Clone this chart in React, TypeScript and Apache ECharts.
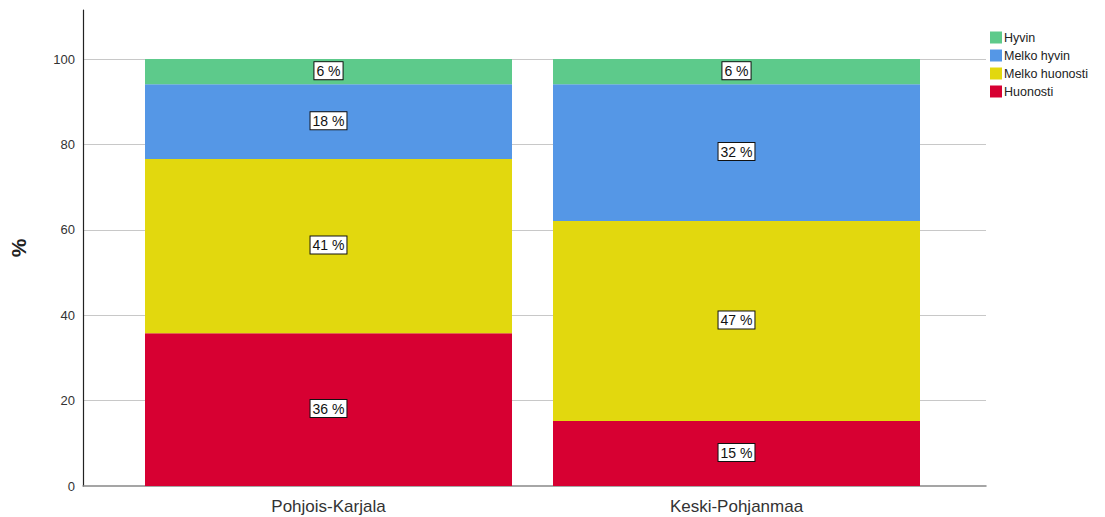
import React, { useEffect, useRef } from "react";
import * as echarts from "echarts";

const categories = ["Pohjois-Karjala", "Keski-Pohjanmaa"];
const seriesNames = ["Huonosti", "Melko huonosti", "Melko hyvin", "Hyvin"];
const huonosti = [35.8, 15.2];
const melkoHuonosti = [40.8, 46.9];
const melkoHyvin = [17.5, 32.0];
const hyvin = [5.9, 5.9];
const yTicks = [0, 20, 40, 60, 80, 100];
const colors = ["#d70032", "#e2d80e", "#5597e6", "#5dca8b"];

export default function App() {
  const ref = useRef<HTMLDivElement>(null);
  useEffect(() => {
    if (!ref.current) return;
    const chart = echarts.init(ref.current, undefined, { renderer: "svg" });
    const values = [huonosti, melkoHuonosti, melkoHyvin, hyvin];
    const font = "Liberation Sans, Arial, sans-serif";
    const yMax = 111.5;
    chart.setOption({
      animation: false,
      textStyle: { fontFamily: font },
      grid: [
        { left: 79, right: 119, top: 10, bottom: 31 },
        { left: 124.5, right: 164.5, top: 10, bottom: 31 },
      ],
      legend: {
        orient: "vertical",
        left: 985,
        top: 26,
        itemWidth: 12,
        itemHeight: 12,
        itemGap: 5,
        icon: "rect",
        data: ["Hyvin", "Melko hyvin", "Melko huonosti", "Huonosti"],
        textStyle: { fontSize: 12.5, color: "#222", padding: [0, 0, 0, -3], fontFamily: font },
      },
      xAxis: [
        {
          gridIndex: 0,
          type: "value",
          min: 0,
          max: 1,
          splitLine: { show: false },
          axisLine: { show: true, lineStyle: { color: "#888", width: 1.5 } },
          axisTick: { show: false },
          axisLabel: { show: false },
        },
        {
          gridIndex: 1,
          type: "category",
          data: categories,
          axisLine: { show: false },
          axisTick: { show: false },
          axisLabel: { fontSize: 17, color: "#333", margin: 12, fontFamily: font },
        },
      ],
      yAxis: [
        {
          gridIndex: 0,
          type: "value",
          min: 0,
          max: yMax,
          interval: 20,
          name: "%",
          nameLocation: "middle",
          nameGap: 54,
          nameTextStyle: { fontSize: 21, fontWeight: "bold", color: "#222", fontFamily: font },
          axisLine: { show: true, lineStyle: { color: "#222", width: 1.2 } },
          axisTick: { show: false },
          axisLabel: { customValues: yTicks, fontSize: 13, color: "#333", margin: 8, fontFamily: font },
          splitLine: { show: true, showMaxLine: false, showMinLine: false, lineStyle: { color: "#c8c8c8", width: 1.2 } },
        },
        {
          gridIndex: 1,
          type: "value",
          min: 0,
          max: yMax,
          show: false,
          splitLine: { show: false },
        },
      ],
      series: seriesNames.map((name, i) => ({
        name,
        type: "bar",
        xAxisIndex: 1,
        yAxisIndex: 1,
        stack: "total",
        barWidth: 367,
        itemStyle: { color: colors[i] },
        data: values[i],
        label: {
          show: true,
          position: "inside",
          offset: [0, -1],
          formatter: (p: any) => Math.round(p.value) + " %",
          backgroundColor: "#fff",
          borderColor: "#111",
          borderWidth: 1,
          padding: [2, 2, 1, 2],
          fontSize: 14,
          color: "#111",
          fontFamily: font,
        },
      })),
    });
    return () => chart.dispose();
  }, []);
  return <div ref={ref} style={{ position: "absolute", left: 0, top: 0, width: 1105, height: 517 }} />;
}
